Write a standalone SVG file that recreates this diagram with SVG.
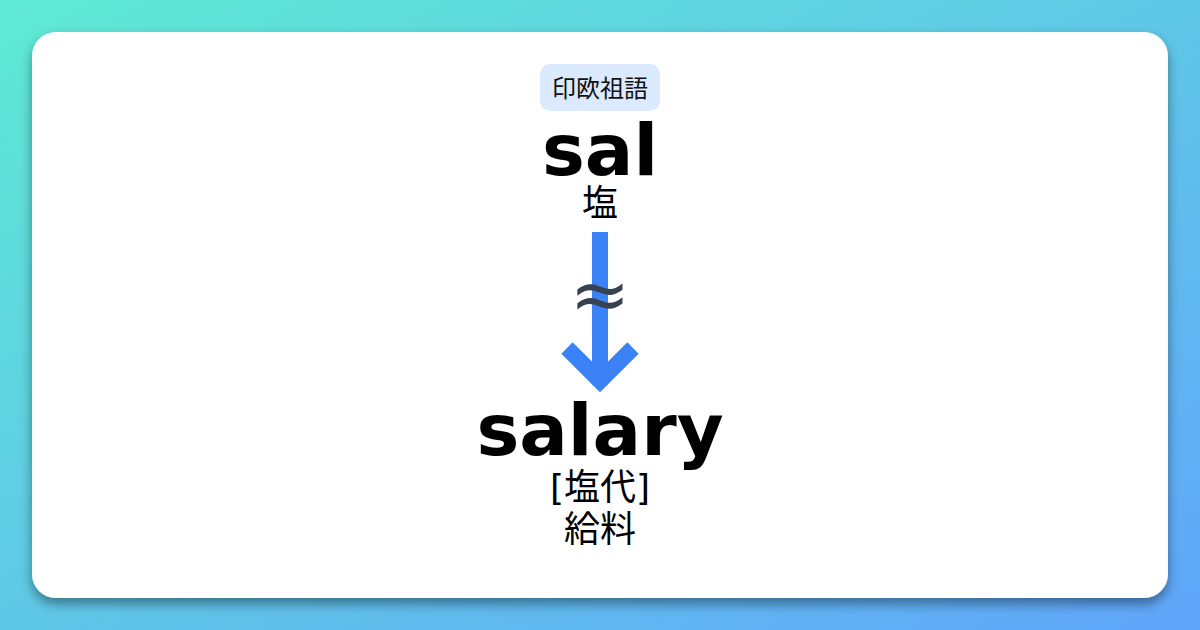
<svg xmlns="http://www.w3.org/2000/svg" width="1200" height="630" viewBox="0 0 1200 630">
<defs>
<linearGradient id="bg" x1="0" y1="0" x2="1" y2="1">
<stop offset="0" stop-color="#5eead4"/>
<stop offset="1" stop-color="#60a5fa"/>
</linearGradient>
<filter id="sh" x="-10%" y="-10%" width="120%" height="130%">
<feDropShadow dx="0" dy="6" stdDeviation="6" flood-color="#000" flood-opacity="0.4"/>
</filter>
<style>
.w{font-family:"DejaVu Sans",sans-serif;font-weight:bold;font-size:72px;fill:#000;text-anchor:middle}
.j{font-family:"DejaVu Sans","Noto Sans CJK JP",sans-serif;font-size:36px;fill:#000;text-anchor:middle}
.b{font-family:"Noto Sans CJK JP",sans-serif;font-size:24px;fill:#111;text-anchor:middle}
</style>
</defs>
<rect width="1200" height="630" fill="url(#bg)"/>
<rect x="32" y="32" width="1136" height="566" rx="24" fill="#fff" filter="url(#sh)"/>
<g id="badge">
<rect x="540" y="64" width="120" height="47" rx="10" fill="#dbeafe"/>
<text class="b" x="600" y="97">印欧祖語</text>
</g>
<g id="source">
<text class="w" x="600" y="175">sal</text>
<text class="j" x="600" y="216">塩</text>
</g>
<g id="connectors">
<line x1="600" y1="232" x2="600" y2="385" stroke="#3b82f6" stroke-width="16"/>
<polyline points="567,348 600,381 633,348" fill="none" stroke="#3b82f6" stroke-width="16" stroke-linejoin="miter"/>
<text x="600" y="319" font-family="DejaVu Sans,sans-serif" font-size="72" fill="#374151" text-anchor="middle">≈</text>
</g>
<g id="target">
<text class="w" x="600" y="455">salary</text>
<text class="j" x="600" y="500">[塩代]</text>
<text class="j" x="600" y="542">給料</text>
</g>
</svg>
